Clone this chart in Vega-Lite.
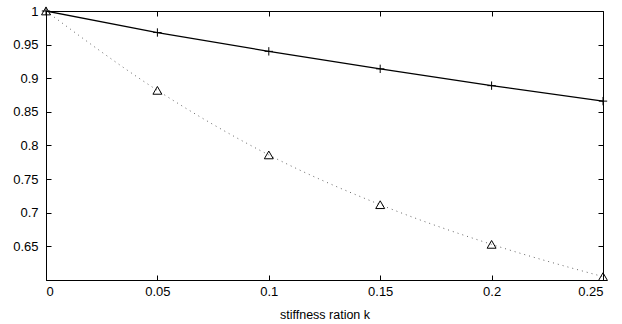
{
  "$schema": "https://vega.github.io/schema/vega-lite/v6.json",
  "width": 557,
  "height": 269,
  "autosize": {"type": "none"},
  "padding": {"left": 46, "top": 11, "right": 19, "bottom": 44},
  "background": "white",
  "config": {
    "view": {"stroke": "black", "strokeWidth": 1},
    "axis": {
      "labelFont": "Liberation Sans",
      "labelFontSize": 13,
      "labelColor": "black",
      "titleFont": "Liberation Sans",
      "titleFontSize": 12.5,
      "titleFontWeight": "normal",
      "titleColor": "black",
      "domainColor": "black",
      "tickColor": "black",
      "grid": false,
      "tickSize": -5
    }
  },
  "datasets": {
    "solid": [
      {"k": 0, "v": 1.0},
      {"k": 0.05, "v": 0.968},
      {"k": 0.1, "v": 0.940},
      {"k": 0.15, "v": 0.914},
      {"k": 0.2, "v": 0.889},
      {"k": 0.25, "v": 0.866}
    ],
    "tri": [
      {"k": 0, "v": 1.0},
      {"k": 0.05, "v": 0.882},
      {"k": 0.1, "v": 0.786},
      {"k": 0.15, "v": 0.712},
      {"k": 0.2, "v": 0.653},
      {"k": 0.25, "v": 0.605}
    ]
  },
  "resolve": {"axis": {"x": "independent", "y": "independent"}},
  "layer": [
    {
      "data": {"name": "tri"},
      "mark": {"type": "line", "color": "#666666", "strokeWidth": 1, "strokeDash": [1, 4], "interpolate": "monotone", "clip": true},
      "encoding": {
        "x": {"field": "k", "type": "quantitative", "scale": {"domain": [0, 0.25], "nice": false, "zero": false},
          "axis": {"orient": "bottom", "values": [0, 0.05, 0.1, 0.15, 0.2, 0.25], "format": "~g", "labelPadding": 10, "title": "stiffness ration k", "titlePadding": 10}},
        "y": {"field": "v", "type": "quantitative", "scale": {"domain": [0.6, 1.0], "nice": false, "zero": false},
          "axis": {"orient": "left", "values": [0.65, 0.7, 0.75, 0.8, 0.85, 0.9, 0.95, 1.0], "format": "~g", "labelPadding": 13, "title": null}}
      }
    },
    {
      "data": {"name": "solid"},
      "mark": {"type": "line", "color": "black", "strokeWidth": 1.3, "clip": true},
      "encoding": {
        "x": {"field": "k", "type": "quantitative", "scale": {"domain": [0, 0.25], "nice": false, "zero": false},
          "axis": {"orient": "top", "values": [0, 0.05, 0.1, 0.15, 0.2, 0.25], "labels": false, "title": null, "domain": false}},
        "y": {"field": "v", "type": "quantitative", "scale": {"domain": [0.6, 1.0], "nice": false, "zero": false},
          "axis": {"orient": "right", "values": [0.65, 0.7, 0.75, 0.8, 0.85, 0.9, 0.95, 1.0], "labels": false, "title": null, "domain": false}}
      }
    },
    {
      "data": {"name": "solid"},
      "mark": {"type": "point", "shape": "M -1 0 L 1 0 M 0 -1 L 0 1", "filled": false, "color": "black", "strokeWidth": 1, "size": 70, "opacity": 1},
      "encoding": {
        "x": {"field": "k", "type": "quantitative", "axis": null},
        "y": {"field": "v", "type": "quantitative", "axis": null}
      }
    },
    {
      "data": {"name": "tri"},
      "mark": {"type": "point", "shape": "triangle-up", "filled": false, "color": "black", "strokeWidth": 1, "size": 80, "opacity": 1},
      "encoding": {
        "x": {"field": "k", "type": "quantitative", "axis": null},
        "y": {"field": "v", "type": "quantitative", "axis": null}
      }
    }
  ]
}
